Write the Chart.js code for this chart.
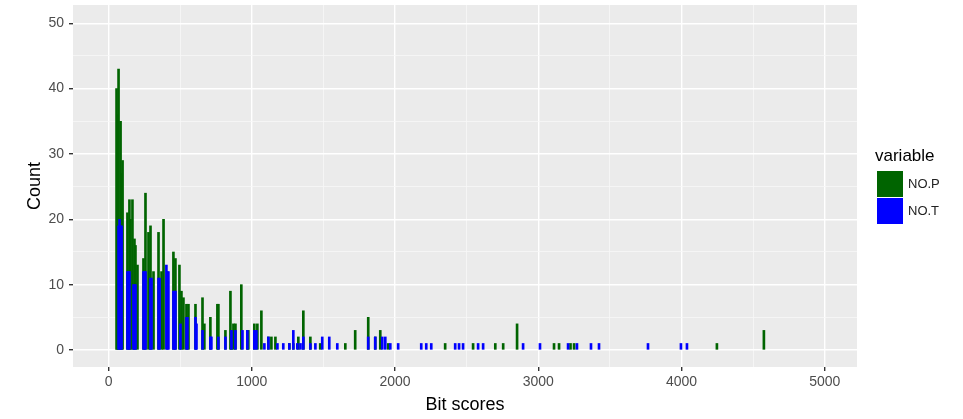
<!DOCTYPE html>
<html>
<head>
<meta charset="utf-8">
<script src="https://cdn.jsdelivr.net/npm/chart.js@4.4.0/dist/chart.umd.min.js"></script>
<style>
    html, body { margin: 0; padding: 0; background: #fff; }
    #wrap { position: relative; width: 963px; height: 419px; }
    #legend { position: absolute; left: 875px; top: 146px; font-family: "Liberation Sans", Arial, sans-serif; color: #000; }
    #legend .title { font-size: 17px; margin-bottom: 4px; margin-left: 0px; }
    #legend .item { display: flex; align-items: center; height: 27px; }
    #legend .swatch { width: 26px; height: 26px; margin-left: 2px; margin-right: 5px; }
    #legend .label { font-size: 13px; color: #222; }
</style>
</head>
<body>
<div id="wrap">
    <canvas id="bitChart" width="963" height="419"></canvas>
    <div id="legend"></div>
</div>
<script>
// 시리즈 이름과 색
const seriesNames = ['NO.P', 'NO.T'];
const seriesColors = ['#006400', '#0000FF'];

// NO.P (green) : bit score, count
const noPScores = [56, 63, 70, 84, 91, 98, 132, 146, 153, 167, 181, 188, 202, 244, 258, 279, 293, 314, 349, 370, 384,
    453, 467, 495, 509, 523, 544, 558, 607, 656, 669, 711, 760, 767, 816, 851, 858, 872, 886, 927, 969, 976,
    1018, 1039, 1067, 1116, 1137, 1165, 1262, 1290, 1325, 1360, 1409, 1478, 1653, 1722, 1813, 1862, 1897, 1953,
    2350, 2545, 2700, 2755, 2852, 3110, 3145, 3225, 3250, 4247, 4575];
const noPCounts = [40, 36, 43, 35, 27, 29, 21, 23, 20, 23, 17, 16, 13, 14, 24, 18, 19, 12, 18, 12, 20,
    15, 14, 13, 9, 8, 7, 7, 7, 8, 4, 5, 7, 7, 3, 9, 3, 4, 4, 10, 3, 3,
    4, 4, 6, 2, 2, 2, 1, 1, 2, 6, 2, 1, 1, 3, 5, 2, 3, 1,
    1, 1, 1, 1, 4, 1, 1, 1, 1, 1, 3];

// NO.T (blue) : bit score, count
const noTScores = [70, 77, 84, 91, 132, 139, 146, 174, 181, 188, 244, 251, 258, 293, 300, 349, 356, 404, 411, 418,
    453, 460, 467, 502, 544, 551, 607, 614, 656, 711, 718, 767, 816, 858, 886, 935, 969, 1018, 1032, 1088, 1116,
    1179, 1220, 1262, 1290, 1318, 1340, 1360, 1409, 1444, 1492, 1541, 1597, 1813, 1862, 1911, 1932, 1967, 2022,
    2183, 2218, 2253, 2420, 2447, 2475, 2580, 2615, 2894, 3012, 3208, 3270, 3368, 3424, 3766, 3996, 4038];
const noTCounts = [19, 20, 19, 19, 12, 12, 12, 10, 10, 10, 12, 12, 12, 11, 11, 11, 11, 13, 12, 12,
    9, 9, 9, 4, 5, 5, 5, 4, 3, 2, 2, 2, 2, 3, 3, 3, 3, 3, 3, 1, 2,
    1, 1, 1, 3, 1, 1, 2, 1, 1, 2, 2, 1, 2, 2, 2, 2, 1, 1,
    1, 1, 1, 1, 1, 1, 1, 1, 1, 1, 1, 1, 1, 1, 1, 1, 1];

// 축 눈금 (major = 라벨, minor = 보조 격자)
const yMajorTicks = [0, 10, 20, 30, 40, 50];
const yMinorTicks = [5, 15, 25, 35, 45];
const xMajorTicks = [0, 1000, 2000, 3000, 4000, 5000];
const xMinorTicks = [500, 1500, 2500, 3500, 4500];

const FONT = '"Liberation Sans", Arial, sans-serif';

function toPoints(xs, ys) {
    return xs.map((x, i) => ({ x: x, y: ys[i] }));
}

function isMajor(major, v) {
    return major.some(m => Math.abs(m - v) < 1e-6);
}

function setTicks(major, minor) {
    return function(scale) {
        scale.ticks = major.concat(minor).sort((a, b) => a - b).map(v => ({ value: v }));
    };
}

const panelBackground = {
    id: 'panelBackground',
    beforeDraw(chart) {
        const { ctx, chartArea } = chart;
        ctx.save();
        ctx.fillStyle = '#EBEBEB';
        ctx.fillRect(chartArea.left, chartArea.top, chartArea.right - chartArea.left, chartArea.bottom - chartArea.top);
        ctx.restore();
    }
};

function gridColor(major) {
    return ctx => (ctx.tick && isMajor(major, ctx.tick.value)) ? '#FFFFFF' : '#F7F7F7';
}
function gridWidth(major) {
    return ctx => (ctx.tick && isMajor(major, ctx.tick.value)) ? 1.4 : 0.8;
}
function tickColor(major) {
    return ctx => (ctx.tick && isMajor(major, ctx.tick.value)) ? '#333333' : 'rgba(0,0,0,0)';
}

const ctx = document.getElementById('bitChart').getContext('2d');
const chart = new Chart(ctx, {
    type: 'bar',
    data: {
        datasets: [
            {
                label: seriesNames[0],
                data: toPoints(noPScores, noPCounts),
                backgroundColor: seriesColors[0],
                barThickness: 2,
                grouped: false,
                order: 1
            },
            {
                label: seriesNames[1],
                data: toPoints(noTScores, noTCounts),
                backgroundColor: seriesColors[1],
                barThickness: 2,
                grouped: false,
                order: 0
            }
        ]
    },
    options: {
        responsive: false,
        animation: false,
        layout: { padding: { top: 5, right: 106, left: 0, bottom: 0 } },
        scales: {
            x: {
                type: 'linear',
                offset: false,
                min: -248,
                max: 5225,
                border: { display: false },
                grid: {
                    offset: false,
                    color: gridColor(xMajorTicks),
                    lineWidth: gridWidth(xMajorTicks),
                    tickColor: tickColor(xMajorTicks),
                    tickLength: 4
                },
                ticks: {
                    autoSkip: false,
                    maxRotation: 0,
                    minRotation: 0,
                    padding: 3,
                    color: '#4D4D4D',
                    font: { family: FONT, size: 14 },
                    callback: v => isMajor(xMajorTicks, v) ? String(v) : ''
                },
                title: {
                    display: true,
                    text: 'Bit scores',
                    color: '#000',
                    font: { family: FONT, size: 18 },
                    padding: { top: 0, bottom: 3 }
                },
                afterBuildTicks: setTicks(xMajorTicks, xMinorTicks),
                afterFit(scale) {
                    scale.height = 52;
                    scale.paddingLeft = 0;
                    scale.paddingRight = 0;
                }
            },
            y: {
                min: -2.6,
                max: 52.8,
                border: { display: false },
                grid: {
                    color: gridColor(yMajorTicks),
                    lineWidth: gridWidth(yMajorTicks),
                    tickColor: tickColor(yMajorTicks),
                    tickLength: 4
                },
                ticks: {
                    autoSkip: false,
                    padding: 5,
                    color: '#4D4D4D',
                    font: { family: FONT, size: 14 },
                    callback: v => isMajor(yMajorTicks, v) ? String(v) : ''
                },
                title: {
                    display: true,
                    text: 'Count',
                    color: '#000',
                    font: { family: FONT, size: 18 },
                    padding: { top: 24, bottom: 0 }
                },
                afterBuildTicks: setTicks(yMajorTicks, yMinorTicks),
                afterFit(scale) {
                    scale.width = 73;
                    scale.paddingTop = 0;
                    scale.paddingBottom = 0;
                }
            }
        },
        plugins: {
            legend: { display: false },
            tooltip: { enabled: false }
        }
    },
    plugins: [panelBackground]
});

// ggplot 스타일 범례
const legendEl = document.getElementById('legend');
let html = '<div class="title">variable</div>';
seriesNames.forEach((name, i) => {
    html += '<div class="item"><div class="swatch" style="background:' + seriesColors[i] + '"></div>' +
        '<span class="label">' + name + '</span></div>';
});
legendEl.innerHTML = html;
</script>
</body>
</html>
